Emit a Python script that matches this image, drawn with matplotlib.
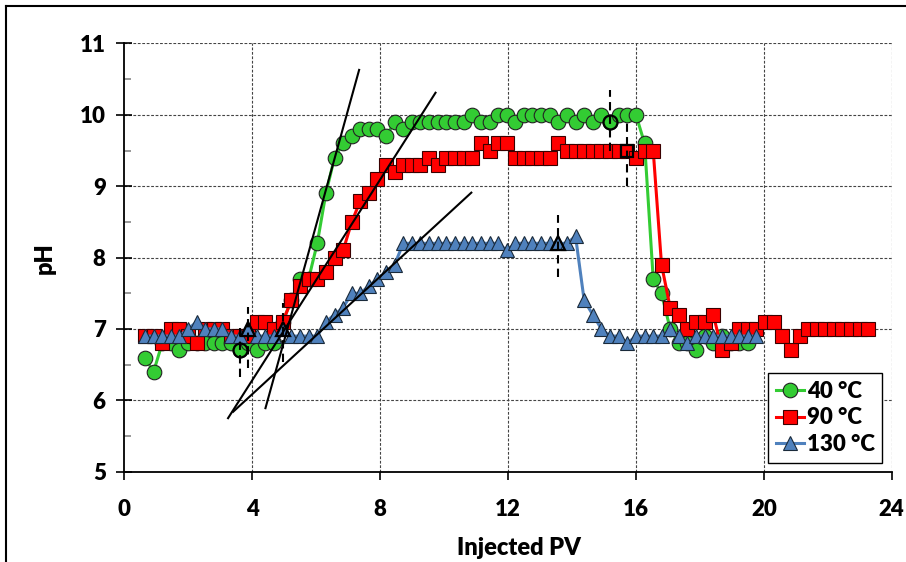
import matplotlib
matplotlib.use("Agg")
import matplotlib.pyplot as plt
from matplotlib.lines import Line2D

plt.rcParams['font.family'] = ['Lato', 'DejaVu Sans']
plt.rcParams['font.weight'] = 'heavy'
W = 'heavy'

# ---------------- data ----------------
pv = [0.64, 0.91, 1.18, 1.45, 1.72, 1.99, 2.26, 2.53, 2.80, 3.06,
      3.33, 3.60, 3.87, 4.14, 4.41, 4.68, 4.95, 5.22, 5.49, 5.76,
      6.03, 6.30, 6.57, 6.84, 7.11, 7.38, 7.64, 7.91, 8.18, 8.45,
      8.72, 8.99, 9.26, 9.53, 9.80, 10.07, 10.34, 10.61, 10.88, 11.15,
      11.42, 11.69, 11.96, 12.22, 12.49, 12.76, 13.03, 13.30, 13.57, 13.84,
      14.11, 14.38, 14.65, 14.92, 15.19, 15.46, 15.73, 16.00, 16.27, 16.54,
      16.80, 17.07, 17.34, 17.61, 17.88, 18.15, 18.42, 18.69, 18.96, 19.23,
      19.50, 19.77, 20.04, 20.31, 20.58, 20.85, 21.12, 21.39, 21.66, 21.92,
      22.19, 22.46, 22.73, 23.00, 23.27]

ph_40 = [6.6, 6.4, 6.8, 6.8, 6.7, 6.8, 6.8, 6.8, 6.8, 6.8,
         6.8, 6.7, 6.8, 6.7, 6.8, 6.8, 7.1, 7.4, 7.7, 7.7,
         8.2, 8.9, 9.4, 9.6, 9.7, 9.8, 9.8, 9.8, 9.7, 9.9,
         9.8, 9.9, 9.9, 9.9, 9.9, 9.9, 9.9, 9.9, 10.0, 9.9,
         9.9, 10.0, 10.0, 9.9, 10.0, 10.0, 10.0, 10.0, 9.9, 10.0,
         9.9, 10.0, 9.9, 10.0, 9.9, 10.0, 10.0, 10.0, 9.6, 7.7,
         7.5, 7.0, 6.8, 6.8, 6.7, 6.9, 6.8, 6.9, 6.8, 6.8,
         6.8]

ph_90 = [6.9, 6.9, 6.8, 7.0, 7.0, 6.9, 6.8, 7.0, 7.0, 7.0,
         6.9, 6.9, 6.9, 7.1, 7.1, 7.0, 7.1, 7.4, 7.6, 7.7,
         7.7, 7.8, 8.0, 8.1, 8.5, 8.8, 8.9, 9.1, 9.3, 9.2,
         9.3, 9.3, 9.3, 9.4, 9.3, 9.4, 9.4, 9.4, 9.4, 9.6,
         9.5, 9.6, 9.6, 9.4, 9.4, 9.4, 9.4, 9.4, 9.6, 9.5,
         9.5, 9.5, 9.5, 9.5, 9.5, 9.5, 9.5, 9.4, 9.5, 9.5,
         7.9, 7.3, 7.2, 7.0, 7.1, 7.1, 7.2, 6.7, 6.8, 7.0,
         7.0, 7.0, 7.1, 7.1, 6.9, 6.7, 6.9, 7.0, 7.0, 7.0,
         7.0, 7.0, 7.0, 7.0, 7.0]

ph_130 = [6.9, 6.9, 6.9, 6.9, 6.9, 7.0, 7.1, 7.0, 7.0, 7.0,
          6.9, 6.9, 7.0, 6.9, 6.9, 6.9, 7.0, 6.9, 6.9, 6.9,
          6.9, 7.1, 7.2, 7.3, 7.5, 7.5, 7.6, 7.7, 7.8, 7.9,
          8.2, 8.2, 8.2, 8.2, 8.2, 8.2, 8.2, 8.2, 8.2, 8.2,
          8.2, 8.2, 8.1, 8.2, 8.2, 8.2, 8.2, 8.2, 8.2, 8.2,
          8.3, 7.4, 7.2, 7.0, 6.9, 6.9, 6.8, 6.9, 6.9, 6.9,
          6.9, 7.0, 6.9, 6.8, 6.9, 6.9, 6.9, 6.9, 6.9, 6.9,
          6.9, 6.9]

labels = ['40 °C', '90 °C', '130 °C']

# tangent lines (x0, y0, x1, y1)
tangent_x = [[4.41, 7.34], [3.24, 9.73], [3.40, 10.85]]
tangent_y = [[5.89, 10.63], [5.75, 10.31], [5.84, 8.91]]

# highlighted points with dashed vertical markers
hl_x = [3.60, 3.87, 4.95, 15.19, 15.73, 13.57]
hl_y = [6.7, 7.0, 7.0, 9.9, 9.5, 8.2]
hl_marker = ['o', '^', '^', 'o', 's', '^']
hl_lo = [6.32, 6.45, 6.54, 9.49, 9.00, 7.73]
hl_hi = [7.03, 7.31, 7.36, 10.35, 9.89, 8.60]

# ---------------- figure ----------------
fig = plt.figure(figsize=(9.06, 5.62), dpi=100)
ax = fig.add_axes([0.1374, 0.1607, 0.9842 - 0.1374, 0.9226 - 0.1607])

grid_kw = dict(color='#444444', lw=0.8, linestyle=(0, (2.5, 1.5)), zorder=0.5)
for yv in [6, 7, 8, 9, 10, 11]:
    ax.axhline(yv, **grid_kw)
for xv in [4, 8, 12, 16, 20, 24]:
    ax.axvline(xv, **grid_kw)

green, red, blue = '#33CC33', '#FF0000', '#4F81BD'
edge = '#222222'
ax.plot(pv[:len(ph_40)], ph_40, color=green, lw=2.2, marker='o', ms=10.5,
        mfc=green, mec=edge, mew=0.8, label=labels[0], zorder=3)
ax.plot(pv[:len(ph_90)], ph_90, color=red, lw=2.2, marker='s', ms=9.5,
        mfc=red, mec='#3a0000', mew=0.8, label=labels[1], zorder=4)
ax.plot(pv[:len(ph_130)], ph_130, color=blue, lw=2.2, marker='^', ms=10.5,
        mfc=blue, mec='#1a2a3a', mew=0.8, label=labels[2], zorder=5)

for tx, ty in zip(tangent_x, tangent_y):
    ax.plot(tx, ty, color='black', lw=1.5, zorder=7, clip_on=False)

for x, y, m, lo, hi in zip(hl_x, hl_y, hl_marker, hl_lo, hl_hi):
    ax.plot([x, x], [lo, hi], color='black', lw=1.5, linestyle=(0, (4, 2.5)), zorder=8)
    ax.plot([x], [y], marker=m, ms=10 if m != 's' else 9, mfc='none', mec='black',
            mew=1.6, zorder=8)

ax.set_xlim(0, 24)
ax.set_ylim(5, 11)
ax.set_xticks([0, 4, 8, 12, 16, 20, 24])
ax.set_yticks([5, 6, 7, 8, 9, 10, 11])
ax.set_yticks([5.5, 6.5, 7.5, 8.5, 9.5, 10.5], minor=True)
ax.tick_params(axis='y', which='major', direction='inout', length=11, width=1.2,
               pad=8, labelsize=16)
ax.tick_params(axis='y', which='minor', direction='in', length=5, width=1.2,
               color='#888888')
ax.tick_params(axis='x', which='major', direction='out', length=5.5, width=1.2,
               pad=14, labelsize=16)
for lab in ax.get_xticklabels() + ax.get_yticklabels():
    lab.set_fontweight(W)

for s in ['top', 'right']:
    ax.spines[s].set_visible(False)
for s in ['left', 'bottom']:
    ax.spines[s].set_linewidth(1.3)
    ax.spines[s].set_zorder(6)

fig.text(519 / 906, 1 - 548 / 562, 'Injected PV', ha='center', va='center',
         fontsize=17, fontweight=W)
fig.text(45 / 906, 1 - 258 / 562, 'pH', ha='center', va='center',
         fontsize=17, fontweight=W, rotation=90)

leg = ax.legend(loc='lower right', bbox_to_anchor=(0.988, 0.021), borderaxespad=0,
                fancybox=False, framealpha=1, edgecolor='black',
                handlelength=1.3, handletextpad=0.1, labelspacing=0.25,
                borderpad=0.35, prop={'weight': W, 'size': 16})
leg.get_frame().set_linewidth(1.0)
leg.set_zorder(10)

# outer chart-area border (top and left)
fig.add_artist(Line2D([6 / 906, 1.0], [1 - 6 / 562, 1 - 6 / 562], color='black',
                      lw=1.5, transform=fig.transFigure))
fig.add_artist(Line2D([6 / 906, 6 / 906], [0.0, 1 - 6 / 562], color='black',
                      lw=1.5, transform=fig.transFigure))

fig.savefig('out.png', dpi=100)
